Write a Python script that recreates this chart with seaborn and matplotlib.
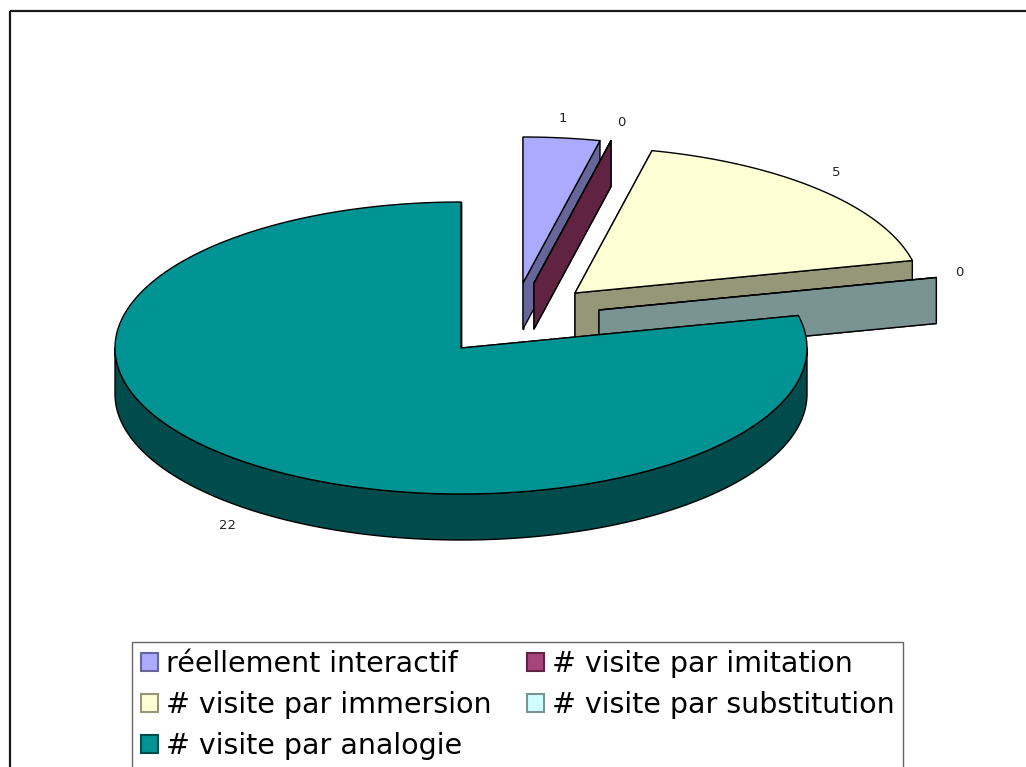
import numpy as np
import seaborn as sns
from matplotlib import pyplot as plt
from matplotlib.patches import Patch, Polygon, Rectangle

# data
categories = ["réellement interactif", "# visite par imitation", "# visite par immersion",
              "# visite par substitution", "# visite par analogie"]
values = [1, 0, 5, 0, 22]

top_colors = ["#AAAAFF", "#A8447C", "#FFFFD5", "#D0FFFF", "#009393"]
wall_colors = ["#66669A", "#602442", "#969678", "#7A9494", "#004B4B"]

# pie geometry in pixels
RX, RY, DEPTH = 346, 146, 46
centers = [(523, 283), (534, 283), (575, 293), (599, 310), (461, 348)]
label_offsets = [(1, -19), (10, -18), (17, -17), (23, -5), (-18, 63)]

sns.set_theme(style="white", font="DejaVu Sans")


def arc_points(cx, cy, a0, a1):
    # angles clockwise from 12 o'clock, in degrees
    t = np.radians(np.linspace(a0, a1, max(int(abs(a1 - a0)) * 2, 2)))
    return np.column_stack([cx + RX * np.sin(t), cy - RY * np.cos(t)])


def draw_slice(ax, center, a0, a1, top, wall):
    cx, cy = center
    down = np.array([0, DEPTH])
    edge = dict(edgecolor="black", linewidth=1.0, joinstyle="round")

    for ang in (a0, a1):
        # flat cut faces, the one at a1 is the visible one
        p = arc_points(cx, cy, ang, ang)[0]
        ax.add_patch(Polygon([(cx, cy), p, p + down, (cx, cy + DEPTH)], facecolor=wall, **edge))

    # only the front half of the rim can be seen
    lo, hi = max(a0, 90), min(a1, 270)
    if hi > lo:
        rim = arc_points(cx, cy, lo, hi)
        ax.add_patch(Polygon(np.vstack([rim, (rim + down)[::-1]]), facecolor=wall, **edge))

    face = np.vstack([[(cx, cy)], arc_points(cx, cy, a0, a1)])
    ax.add_patch(Polygon(face, facecolor=top, **edge))


def main():
    fig = plt.figure(figsize=(10.26, 7.67), dpi=100)
    ax = fig.add_axes([0, 0, 1, 1])
    ax.set_xlim(0, 1026)
    ax.set_ylim(767, 0)
    ax.axis("off")

    # chart border runs off the image on the right and bottom
    ax.add_patch(Rectangle((9.5, 10.5), 1100, 800, fill=False, edgecolor="#1a1a1a", linewidth=1.6))

    angles = np.cumsum([0] + values) / sum(values) * 360
    for i in range(len(values)):
        draw_slice(ax, centers[i], angles[i], angles[i + 1], top_colors[i], wall_colors[i])

        mid = (angles[i] + angles[i + 1]) / 2
        anchor = arc_points(*centers[i], mid, mid)[0]
        ax.text(anchor[0] + label_offsets[i][0], anchor[1] + label_offsets[i][1], str(values[i]),
                ha="center", va="center", fontsize=9.5, color="#222222")

    # legend fills by column, the chart reads by row
    order = [0, 2, 4, 1, 3]
    handles = [Patch(facecolor=top_colors[i], edgecolor=wall_colors[i], linewidth=1.5,
                     label=categories[i]) for i in order]
    ax.legend(handles=handles, ncols=2, loc="lower left", bbox_to_anchor=(132, 768.5),
              bbox_transform=ax.transData, borderaxespad=0, fontsize=20.5, frameon=True,
              fancybox=False, framealpha=1, edgecolor="#666666", handlelength=0.6,
              handleheight=0.6, handletextpad=0.28, labelspacing=0.45, columnspacing=1.25,
              borderpad=0.3, labelcolor="black")

    fig.savefig("out.png", dpi=100)


if __name__ == '__main__':
    main()
